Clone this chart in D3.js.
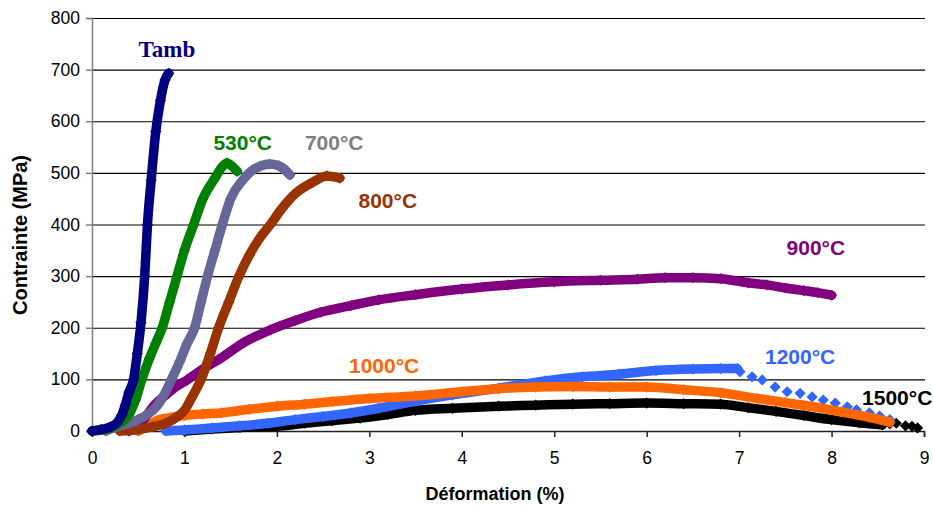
<!DOCTYPE html>
<html><head><meta charset="utf-8">
<script src="https://cdn.jsdelivr.net/npm/d3@7"></script>
<style>html,body{margin:0;padding:0;background:#fff;} svg{display:block;}</style>
</head><body>
<script>
// ---------- data ----------
const xTicks = [0,1,2,3,4,5,6,7,8,9];
const yTicks = [0,100,200,300,400,500,600,700,800];
const xTitle = "Déformation (%)";
const yTitle = "Contrainte (MPa)";

const seriesNames  = ["Tamb","530°C","700°C","800°C","900°C","1000°C","1200°C","1500°C"];
const seriesColors = ["#000080","#008000","#666699","#993300","#800080","#FF6600","#3366FF","#000000"];
const labelColors  = ["#000080","#008000","#808080","#993300","#800080","#FF6600","#3366FF","#000000"];

const strainTamb = [0,0.1,0.2,0.27,0.32,0.36,0.4,0.45,0.49,0.53,0.57,0.6,0.64,0.69,0.74,0.79,0.83];
const stressTamb = [0,3,8,16,30,50,75,100,150,210,300,400,486,580,640,680,693];

const strain530 = [0,0.2,0.3,0.4,0.47,0.54,0.62,0.69,0.76,0.84,0.92,1.0,1.1,1.2,1.33,1.4,1.46,1.52,1.57];
const stress530 = [0,6,15,32,60,100,140,170,200,250,300,350,400,450,490,510,519,512,503];

const strain700 = [0.15,0.3,0.4,0.5,0.6,0.7,0.78,0.86,0.95,1.03,1.11,1.18,1.25,1.33,1.41,1.5,1.63,1.72,1.82,1.92,2.02,2.08,2.14];
const stress700 = [0,10,15,22,32,48,70,100,135,170,200,250,300,350,400,450,486,503,513,517,514,507,496];

const strain800 = [0.3,0.5,0.65,0.8,0.9,1.0,1.08,1.18,1.28,1.37,1.48,1.59,1.7,1.82,1.93,2.05,2.2,2.39,2.54,2.68];
const stress800 = [0,3,8,15,25,40,65,100,150,200,250,300,340,375,400,430,460,482,494,490];

const strain900 = [0.4,0.55,0.66,0.8,0.9,1.03,1.2,1.41,1.65,1.93,2.2,2.47,2.8,3.1,3.5,4.0,4.5,5.0,5.5,5.9,6.2,6.5,6.8,7.1,7.3,7.5,7.7,7.85,8.0];
const stress900 = [0,20,47,70,85,99,120,143,172,196,214,230,243,254,264,275,283,289,292,294,297,297,295,287,283,277,272,268,263];

const strain1000 = [0.5,0.6,0.7,0.85,1.0,1.2,1.4,1.7,2.0,2.3,2.6,3.0,3.5,4.0,4.4,4.8,5.2,5.6,6.0,6.4,6.8,7.2,7.5,7.8,8.1,8.4,8.63];
const stress1000 = [0,10,20,26,30,33,35,42,48,52,57,63,68,76,82,85,86,85,85,80,74,63,55,47,37,27,17];

const strain1200 = [0.8,1.0,1.3,1.6,1.9,2.2,2.5,2.8,3.1,3.5,3.9,4.4,4.9,5.3,5.7,6.1,6.5,6.8,6.98];
const stress1200 = [0,2,6,10,15,22,28,35,44,58,70,83,97,105,110,117,120,121,121];
const strain1200Tail = [7.01,7.14,7.25,7.39,7.52,7.66,7.79,7.91,8.04,8.17,8.27,8.41,8.52,8.63];
const stress1200Tail = [115,105,99,85,76,73,66,60,54,47,41,35,29,22];

const strain1500 = [1.0,1.3,1.6,2.0,2.3,2.6,2.9,3.2,3.5,3.9,4.4,4.8,5.2,5.6,6.0,6.4,6.8,7.1,7.4,7.7,8.0,8.3,8.55];
const stress1500 = [0,4,7,9,15,20,25,32,40,44,48,50,52,53,54,53,52,45,38,30,22,16,12];
const strain1500Tail = [8.63,8.7,8.8,8.87,8.93];
const stress1500Tail = [14,15,10,9,6];

// label anchor positions given in data units
const labelStrain = [0.81,1.63,2.62,3.2,7.83,3.16,7.66,8.71];
const labelStress = [725,545,545,432,340,112,130,50];

// ---------- chart ----------
const W = 933, H = 506;
const svg = d3.select("body").append("svg").attr("width", W).attr("height", H);
const x = d3.scaleLinear().domain([0,9]).range([92,924]);
const y = d3.scaleLinear().domain([0,800]).range([431,18]);
const FONT = "'Liberation Sans', Arial, Helvetica, sans-serif";

// gridlines
svg.append("g").attr("transform","translate(92,0)")
  .call(d3.axisLeft(y).tickValues(yTicks.filter(v=>v>0)).tickSize(-(924-92+1)).tickFormat(""))
  .call(g=>g.select(".domain").remove())
  .call(g=>g.selectAll("line").attr("stroke","#000").attr("stroke-width",1.1));

// y axis
svg.append("g").attr("transform","translate(92,0)")
  .call(d3.axisLeft(y).tickValues(yTicks).tickSize(6).tickPadding(6))
  .call(g=>g.select(".domain").attr("stroke","#808080").attr("stroke-width",1.5))
  .call(g=>g.selectAll("line").attr("stroke","#808080").attr("stroke-width",1.5))
  .call(g=>g.selectAll("text").attr("font-family",FONT).attr("font-size",17.5).attr("fill","#000"));

// x axis
svg.append("g").attr("transform","translate(0,431)")
  .call(d3.axisBottom(x).tickValues(xTicks).tickSize(6).tickPadding(15))
  .call(g=>g.select(".domain").attr("stroke","#222").attr("stroke-width",1.5))
  .call(g=>g.selectAll("line").attr("stroke","#222").attr("stroke-width",1.5))
  .call(g=>g.selectAll("text").attr("font-family",FONT).attr("font-size",17.5).attr("fill","#000"));

// axis titles
svg.append("text").attr("x",495).attr("y",500).attr("text-anchor","middle")
  .attr("font-family",FONT).attr("font-weight","bold").attr("font-size",18).text(xTitle);
svg.append("text").attr("transform","translate(27,235) rotate(-90)").attr("text-anchor","middle")
  .attr("font-family",FONT).attr("font-weight","bold").attr("font-size",20).text(yTitle);

// series
const series = [
  [strainTamb,stressTamb,[],[]],
  [strain530,stress530,[],[]],
  [strain700,stress700,[],[]],
  [strain800,stress800,[],[]],
  [strain900,stress900,[],[]],
  [strain1000,stress1000,[],[]],
  [strain1200,stress1200,strain1200Tail,stress1200Tail],
  [strain1500,stress1500,strain1500Tail,stress1500Tail]
];
const line = d3.line().x(d=>x(d[0])).y(d=>y(d[1])).curve(d3.curveMonotoneX);
const diamond = (cx,cy,r)=>`M${cx},${cy-r}L${cx+r},${cy}L${cx},${cy+r}L${cx-r},${cy}Z`;

const gS = svg.append("g");
for (let i = series.length-1; i >= 0; i--) {
  const [sx, sy, tx, ty] = series[i];
  const pts = sx.map((v,k)=>[v, sy[k]]);
  const tail = tx.map((v,k)=>[v, ty[k]]);
  const col = seriesColors[i];
  const g = gS.append("g");
  g.append("path").attr("d", line(pts)).attr("fill","none").attr("stroke",col)
    .attr("stroke-width",9.5).attr("stroke-linejoin","round").attr("stroke-linecap","round");
  g.selectAll("path.m").data(pts.concat(tail)).join("path").attr("class","m")
    .attr("d", d=>diamond(x(d[0]), y(d[1]), 5.6)).attr("fill",col);
}

// series labels
seriesNames.forEach((n,i)=>{
  const t = svg.append("text").attr("x", x(labelStrain[i])).attr("y", y(labelStress[i]))
    .attr("text-anchor","middle").attr("fill",labelColors[i]).attr("font-weight","bold")
    .text(n);
  if (i===0) t.attr("font-family","'Liberation Serif','Times New Roman',serif").attr("font-size",23);
  else t.attr("font-family",FONT).attr("font-size",21);
});
</script>
</body></html>
